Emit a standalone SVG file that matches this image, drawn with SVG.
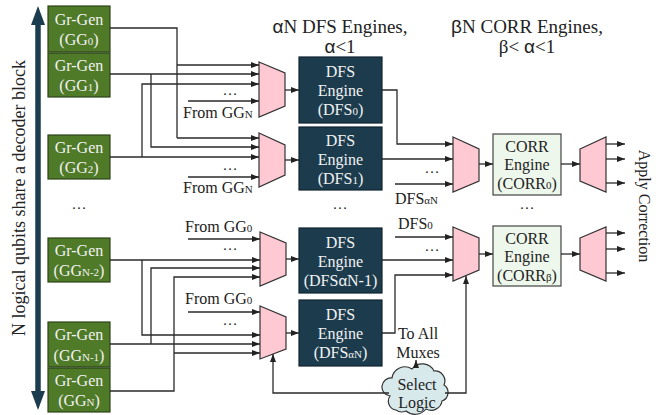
<svg xmlns="http://www.w3.org/2000/svg" width="672" height="415" viewBox="0 0 672 415" font-family="'Liberation Serif', 'DejaVu Serif', serif">
<style>
text{font-family:'Liberation Serif','Tinos','DejaVu Serif',serif}
.gg rect{fill:#4f7a28;stroke:#2c4418;stroke-width:1.2}
.gg text{fill:#f2f2f2;font-size:16px;text-anchor:middle}
.dfs rect{fill:#1c3c4e;stroke:#0f2430;stroke-width:1.2}
.dfs text{fill:#f2f2f2;font-size:16px;text-anchor:middle}
.corr rect{fill:#eef7ec;stroke:#444;stroke-width:1.2}
.corr text{fill:#222;font-size:16px;text-anchor:middle}
.mux polygon{fill:#ffc9d3;stroke:#333;stroke-width:1.2}
.w{fill:none;stroke:#2a2a2a;stroke-width:1.3}
.a{marker-end:url(#ah)}
.lbl{fill:#222;font-size:16px}
.dots{fill:#222;font-size:15px;text-anchor:middle}
.sub{font-size:11px}
.title{fill:#222;font-size:19px;text-anchor:middle}
tspan.sans{font-family:'Liberation Sans',Arial,sans-serif}
</style>
<defs>
<marker id="ah" viewBox="0 0 8 6" refX="8" refY="3" markerWidth="8" markerHeight="6" markerUnits="userSpaceOnUse" orient="auto"><path d="M0,0 L8,3 L0,6 z" fill="#222"/></marker>
</defs>

<!-- big double arrow -->
<g id="qubits-arrow">
<line x1="38" y1="22" x2="38" y2="394" stroke="#1b3d4f" stroke-width="5.5"/>
<polygon points="38,6 31,25 45,25" fill="#1b3d4f"/>
<polygon points="38,410 31,391 45,391" fill="#1b3d4f"/>
<text transform="translate(25,198) rotate(-90)" text-anchor="middle" font-size="18" fill="#222">N logical qubits share a decoder block</text>
</g>

<!-- titles -->
<text class="title" x="340" y="33"><tspan class="sans">α</tspan>N DFS Engines,</text>
<text class="title" x="340" y="53"><tspan class="sans">α</tspan>&lt;1</text>
<text class="title" x="527" y="33"><tspan class="sans">β</tspan>N CORR Engines,</text>
<text class="title" x="527" y="53">β&lt; <tspan class="sans">α</tspan>&lt;1</text>

<!-- GG nodes -->
<g id="gg0" class="gg"><rect x="48" y="6" width="62" height="46"/><text x="79" y="25">Gr-Gen</text><text x="79" y="45">(GG<tspan class="sub">0</tspan>)</text></g>
<g id="gg1" class="gg"><rect x="48" y="53" width="62" height="44"/><text x="79" y="71">Gr-Gen</text><text x="79" y="91">(GG<tspan class="sub">1</tspan>)</text></g>
<g id="gg2" class="gg"><rect x="48" y="135" width="62" height="44"/><text x="79" y="153">Gr-Gen</text><text x="79" y="173">(GG<tspan class="sub">2</tspan>)</text></g>
<g id="ggn2" class="gg"><rect x="48" y="238" width="62" height="44"/><text x="79" y="256">Gr-Gen</text><text x="79" y="276">(GG<tspan class="sub">N-2</tspan>)</text></g>
<g id="ggn1" class="gg"><rect x="48" y="322" width="62" height="45"/><text x="79" y="340">Gr-Gen</text><text x="79" y="361">(GG<tspan class="sub">N-1</tspan>)</text></g>
<g id="ggn" class="gg"><rect x="48" y="368" width="62" height="44"/><text x="79" y="386">Gr-Gen</text><text x="79" y="406">(GG<tspan class="sub">N</tspan>)</text></g>
<text class="dots" x="79" y="209">…</text>

<!-- input muxes -->
<g id="mux1" class="mux"><polygon points="259,62 285,73 285,106 259,117"/></g>
<g id="mux2" class="mux"><polygon points="259,133 285,145 285,175 259,187"/></g>
<g id="mux3" class="mux"><polygon points="260,232 286,243 286,275 260,286"/></g>
<g id="mux4" class="mux"><polygon points="260,306 286,317 286,349 260,359"/></g>

<!-- DFS engines -->
<g id="dfs0" class="dfs"><rect x="299" y="57" width="83" height="66"/><text x="340.5" y="77">DFS</text><text x="340.5" y="96">Engine</text><text x="340.5" y="115">(DFS<tspan class="sub">0</tspan>)</text></g>
<g id="dfs1" class="dfs"><rect x="299" y="127" width="83" height="63"/><text x="340.5" y="146">DFS</text><text x="340.5" y="165">Engine</text><text x="340.5" y="184">(DFS<tspan class="sub">1</tspan>)</text></g>
<g id="dfsan1" class="dfs"><rect x="299" y="228" width="83" height="65"/><text x="340.5" y="248">DFS</text><text x="340.5" y="267">Engine</text><text x="340.5" y="286">(DFS<tspan class="sans" font-size="15">α</tspan>N-1)</text></g>
<g id="dfsan" class="dfs"><rect x="299" y="300" width="83" height="66"/><text x="340.5" y="320">DFS</text><text x="340.5" y="339">Engine</text><text x="340.5" y="358">(DFS<tspan class="sub">αN</tspan>)</text></g>
<text class="dots" x="340" y="209">…</text>

<!-- CORR muxes and engines -->
<g id="cmux1" class="mux"><polygon points="453,137 479,149 479,181 453,192"/></g>
<g id="cmux2" class="mux"><polygon points="453,227 479,238 479,270 453,281"/></g>
<g id="corr0" class="corr"><rect x="493" y="134" width="68" height="61"/><text x="527" y="152">CORR</text><text x="527" y="170">Engine</text><text x="527" y="189">(CORR<tspan class="sub">0</tspan>)</text></g>
<g id="corrb" class="corr"><rect x="493" y="226" width="68" height="60"/><text x="527" y="244">CORR</text><text x="527" y="262">Engine</text><text x="527" y="281">(CORR<tspan class="sub">β</tspan>)</text></g>
<text class="dots" x="527" y="209">…</text>
<g id="demux1" class="mux"><polygon points="580,149 606,137 606,192 580,181"/></g>
<g id="demux2" class="mux"><polygon points="580,238 606,227 606,281 580,270"/></g>
<text transform="translate(639,206) rotate(90)" text-anchor="middle" font-size="16" fill="#222">Apply Correction</text>

<!-- select logic -->
<g id="select-logic">
<path d="M396,410 a9,9 0 0 1 -6,-14 a9,9 0 0 1 2,-18 a13,13 0 0 1 20,-9 a13,13 0 0 1 22,2 a10,10 0 0 1 10,14 a9,9 0 0 1 -2,16 a11,11 0 0 1 -16,8 a14,14 0 0 1 -20,2 a10,10 0 0 1 -10,-1 z" fill="#d8e9eb" stroke="#333" stroke-width="1.2"/>
<text x="417" y="390" text-anchor="middle" font-size="16" fill="#222">Select</text>
<text x="417" y="408" text-anchor="middle" font-size="16" fill="#222">Logic</text>
</g>

<!-- labels -->
<text class="lbl" x="183" y="118">From GG<tspan class="sub">N</tspan></text>
<text class="lbl" x="183" y="193">From GG<tspan class="sub">N</tspan></text>
<text class="lbl" x="185" y="232">From GG<tspan class="sub">0</tspan></text>
<text class="lbl" x="185" y="304">From GG<tspan class="sub">0</tspan></text>
<text class="dots" x="230" y="95">…</text>
<text class="dots" x="230" y="170">…</text>
<text class="dots" x="230" y="250">…</text>
<text class="dots" x="230" y="325">…</text>
<text class="dots" x="432" y="173">…</text>
<text class="dots" x="432" y="251">…</text>
<text class="lbl" x="395" y="204">DFS<tspan class="sub">αN</tspan></text>
<text class="lbl" x="398" y="229">DFS<tspan class="sub">0</tspan></text>
<text class="lbl" x="418" y="339" text-anchor="middle">To All</text>
<text class="lbl" x="418" y="358" text-anchor="middle">Muxes</text>

<!-- connectors -->
<g id="connectors">
<path class="w" d="M110,28 H177 V138"/>
<path class="w a" d="M177,65 H259"/>
<path class="w a" d="M177,138 H259"/>
<path class="w a" d="M110,74 H259"/>
<path class="w a" d="M151,74 V147 H259"/>
<path class="w a" d="M110,157 H259"/>
<path class="w a" d="M142,157 V84 H259"/>
<path class="w a" d="M188,101 H259"/>
<path class="w a" d="M188,177 H259"/>
<path class="w a" d="M188,239 H260"/>
<path class="w a" d="M188,312 H260"/>
<path class="w a" d="M110,260 H260"/>
<path class="w a" d="M142,260 V335 H260"/>
<path class="w a" d="M110,344 H260"/>
<path class="w a" d="M151,344 V268 H260"/>
<path class="w a" d="M110,391 H174 V277 H260"/>
<path class="w a" d="M174,353 H260"/>
<path class="w a" d="M285,90 H299"/>
<path class="w a" d="M285,160 H299"/>
<path class="w a" d="M286,259 H299"/>
<path class="w a" d="M286,333 H299"/>
<path class="w a" d="M382,90 H397 V144 H453"/>
<path class="w a" d="M382,159 H453"/>
<path class="w a" d="M395,184 H453"/>
<path class="w a" d="M395,237 H453"/>
<path class="w a" d="M382,260 H453"/>
<path class="w a" d="M382,333 H395 V275 H453"/>
<path class="w a" d="M479,164 H493"/>
<path class="w a" d="M479,254 H493"/>
<path class="w a" d="M561,164 H580"/>
<path class="w a" d="M561,254 H580"/>
<path class="w a" d="M606,144 H625"/>
<path class="w a" d="M606,159 H625"/>
<path class="w a" d="M606,183 H625"/>
<path class="w a" d="M606,233 H625"/>
<path class="w a" d="M606,249 H625"/>
<path class="w a" d="M606,273 H625"/>
<path class="w a" d="M416,367 V360"/>
<path class="w a" d="M389,393 H273 V354"/>
<path class="w a" d="M445,393 H466 V276"/>
</g>
</svg>
